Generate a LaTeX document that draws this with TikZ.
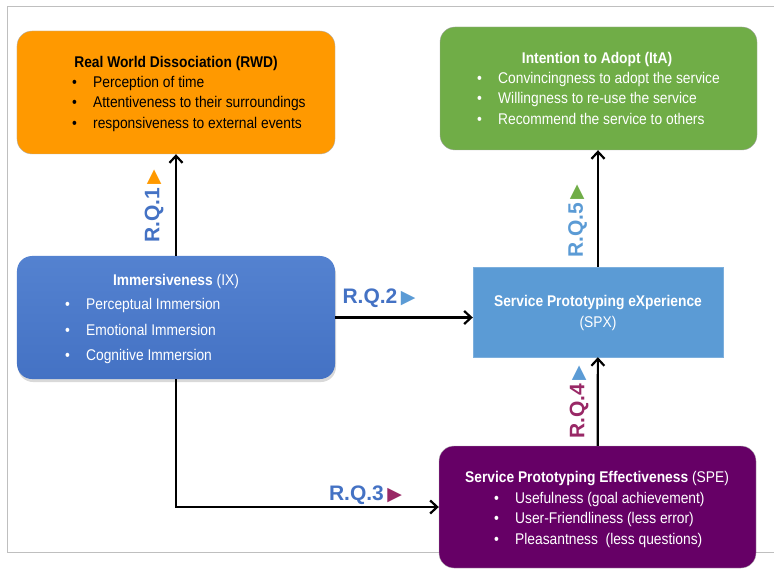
\documentclass[tikz,border=0pt]{standalone}
\usepackage{fontspec}
\setmainfont{Liberation Sans}
\newfontfamily\narrowfont{Liberation Sans}[FakeStretch=0.89]
\newfontfamily\trifont{DejaVu Sans}
\usetikzlibrary{positioning}
\usetikzlibrary{arrows.meta}
\usetikzlibrary{shadows}
\definecolor{rwdorange}{RGB}{255,153,0}
\definecolor{itagreen}{RGB}{112,173,71}
\definecolor{ixblue}{RGB}{68,114,196}
\definecolor{ixtop}{RGB}{84,130,208}
\definecolor{spxblue}{RGB}{91,155,213}
\definecolor{spepurple}{RGB}{102,0,102}
\definecolor{rqmaroon}{RGB}{153,40,102}
\definecolor{framegray}{RGB}{191,191,191}
\tikzset{
    rwdbox/.style = {rectangle, rounded corners=15bp, draw=gray!60, fill=rwdorange, inner sep=0pt, minimum width=318bp, minimum height=123bp},
    itabox/.style = {rectangle, rounded corners=15bp, draw=gray!70, fill=itagreen, inner sep=0pt, minimum width=317bp, minimum height=123bp},
    ixbox/.style = {rectangle, rounded corners=15bp, top color=ixtop, bottom color=ixblue, inner sep=0pt, minimum width=318bp, minimum height=123bp, drop shadow={shadow xshift=1bp, shadow yshift=-3bp, opacity=0.3}},
    spxbox/.style = {rectangle, draw=spxblue!80!white, fill=spxblue, inner sep=0pt, minimum width=250bp, minimum height=90bp},
    spebox/.style = {rectangle, rounded corners=15bp, draw=gray!60, fill=spepurple, inner sep=0pt, minimum width=317bp, minimum height=122bp},
    boxtitle/.style = {inner sep=0pt, align=center, font=\narrowfont\fontsize{15.5bp}{21bp}\selectfont},
    boxitem/.style = {inner sep=0pt, anchor=west, font=\narrowfont\fontsize{15.5bp}{18bp}\selectfont},
    rqlabel/.style = {inner sep=0pt, font=\fontsize{21bp}{24bp}\selectfont\bfseries},
    link/.style = {-{Straight Barb[length=7bp,width=13bp]}, line width=2.2bp, black}
}
\newcommand{\itm}[1]{\makebox[21bp][l]{•}#1}
\newcommand{\tri}[1]{{\trifont\fontsize{19bp}{19bp}\selectfont\color{#1}▶}}

\begin{document}
\begin{tikzpicture}[x=1bp, y=-1bp]
\useasboundingbox (0,0) rectangle (774,570);
\draw[framegray, line width=1bp] (774,7) -- (7,7) -- (7,552) -- (774,552);

% boxes
\node[rwdbox] at (176, 92.5) (rwd) {};
\node[itabox] at (598.5, 88.5) (ita) {};
\node[ixbox] at (176, 317.5) (ix) {};
\node[spxbox] at (598, 312) (spx) {};
\node[spebox] at (597.5, 507) (spe) {};

% texts
\node[boxtitle, text=black] at (176, 63) (rwd-t) {\textbf{Real World Dissociation (RWD)}};
\node[boxitem, text=black] at (72, 83) (rwd-a) {\itm{Perception of time}};
\node[boxitem, text=black] at (72, 103) (rwd-b) {\itm{Attentiveness to their surroundings}};
\node[boxitem, text=black] at (72, 124) (rwd-c) {\itm{responsiveness to external events}};

\node[boxtitle, text=white] at (597, 59) (ita-t) {\textbf{Intention to Adopt (ItA)}};
\node[boxitem, text=white] at (477, 79) (ita-a) {\itm{Convincingness to adopt the service}};
\node[boxitem, text=white] at (477, 99) (ita-b) {\itm{Willingness to re-use the service}};
\node[boxitem, text=white] at (477, 119) (ita-c) {\itm{Recommend the service to others}};

\node[boxtitle, text=white] at (176, 281) (ix-t) {\textbf{Immersiveness} (IX)};
\node[boxitem, text=white] at (65, 305) (ix-a) {\itm{Perceptual Immersion}};
\node[boxitem, text=white] at (65, 330) (ix-b) {\itm{Emotional Immersion}};
\node[boxitem, text=white] at (65, 356) (ix-c) {\itm{Cognitive Immersion}};

\node[boxtitle, text=white] at (598, 313) (spx-t) {\textbf{Service Prototyping eXperience}\\(SPX)};

\node[boxtitle, text=white] at (597, 479) (spe-t) {\textbf{Service Prototyping Effectiveness} (SPE)};
\node[boxitem, text=white] at (494, 499) (spe-a) {\itm{Usefulness (goal achievement)}};
\node[boxitem, text=white] at (494, 519) (spe-b) {\itm{User-Friendliness (less error)}};
\node[boxitem, text=white] at (494, 540) (spe-c) {\itm{Pleasantness\ \ (less questions)}};

% research questions
\node[rqlabel, text=ixblue, rotate=90] at (154, 206) (rq1) {R.Q.1\,\tri{rwdorange}};
\node[rqlabel, text=ixblue] at (379, 298.5) (rq2) {R.Q.2\,\tri{spxblue}};
\node[rqlabel, text=ixblue] at (365.5, 495) (rq3) {R.Q.3\,\tri{rqmaroon}};
\node[rqlabel, text=rqmaroon, rotate=90] at (579, 402) (rq4) {R.Q.4\,\tri{spxblue}};
\node[rqlabel, text=spxblue, rotate=90] at (577.5, 221) (rq5) {R.Q.5\,\tri{itagreen}};

\draw[link] (ix) -- (rwd);
\draw[link] (ix.east) -- (ix.east -| spx.west);
\draw[link] (ix) |- (spe);
\draw[link] (spe) -- (spx);
\draw[link] (spx.north) -- (spx.north |- ita.south);
\end{tikzpicture}
\end{document}
